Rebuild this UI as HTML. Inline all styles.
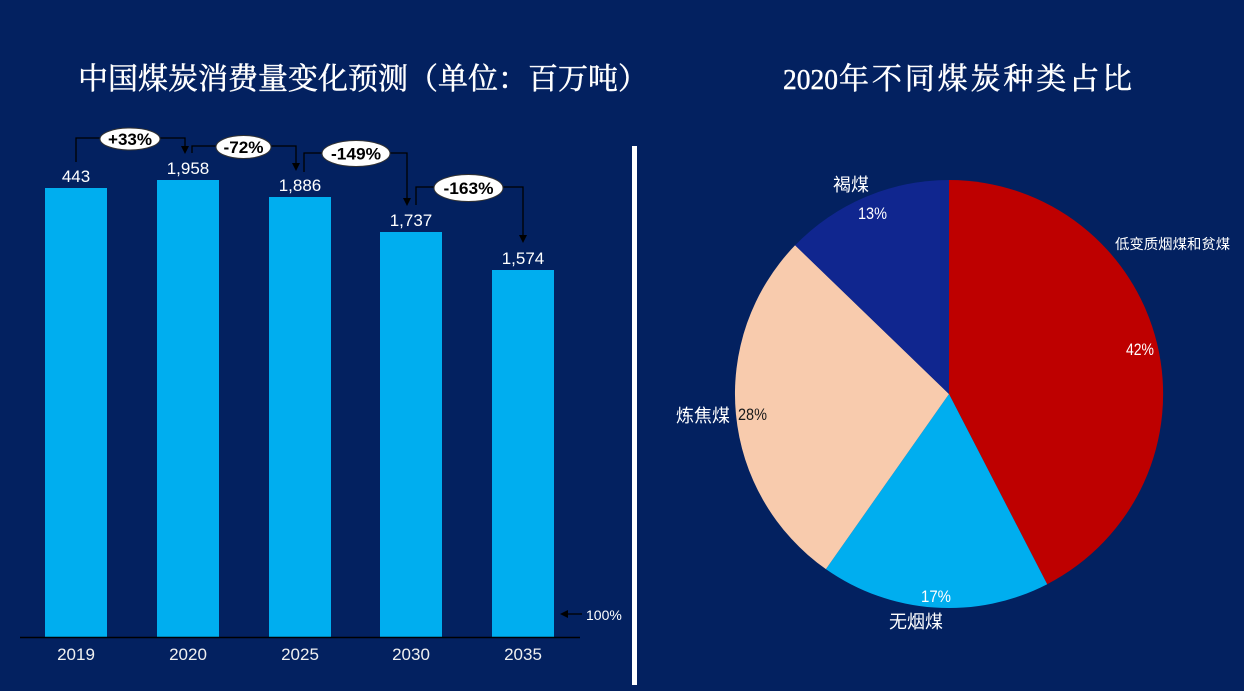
<!DOCTYPE html>
<html>
<head>
<meta charset="utf-8">
<style>
html,body{margin:0;padding:0;background:#032160;}
svg{display:block;}
</style>
</head>
<body>
<svg width="1244" height="691" viewBox="0 0 1244 691" xmlns="http://www.w3.org/2000/svg">
  <rect x="0" y="0" width="1244" height="691" fill="#032160"/>

  <!-- Titles -->
  <text x="78" y="89" font-family="'Liberation Serif','Noto Serif CJK SC',serif" font-size="30" fill="#ffffff" stroke="#ffffff" stroke-width="0.5">中国煤炭消费量变化预测（单位：百万吨）</text>
  <text x="783" y="89" font-family="'Liberation Serif','Noto Serif CJK SC',serif" font-size="28" fill="#ffffff" stroke="#ffffff" stroke-width="0.4" textLength="55" lengthAdjust="spacingAndGlyphs">2020</text>
  <text x="839" y="89" font-family="'Liberation Serif','Noto Serif CJK SC',serif" font-size="30" fill="#ffffff" stroke="#ffffff" stroke-width="0.5" textLength="293" lengthAdjust="spacing">年不同煤炭种类占比</text>

  <!-- Bars -->
  <g fill="#00AEEF">
    <rect x="45" y="188" width="62" height="449"/>
    <rect x="157" y="180" width="62" height="457"/>
    <rect x="269" y="197" width="62" height="440"/>
    <rect x="380" y="232" width="62" height="405"/>
    <rect x="492" y="270" width="62" height="367"/>
  </g>
  <!-- axis -->
  <line x1="20" y1="637.5" x2="580" y2="637.5" stroke="#000000" stroke-width="1.5"/>

  <!-- value labels -->
  <g font-family="'Liberation Sans',sans-serif" font-size="17" fill="#ffffff" text-anchor="middle">
    <text x="76" y="182">443</text>
    <text x="188" y="174">1,958</text>
    <text x="300" y="191">1,886</text>
    <text x="411" y="226">1,737</text>
    <text x="523" y="264">1,574</text>
  </g>

  <!-- year labels -->
  <g font-family="'Liberation Sans',sans-serif" font-size="17" fill="#f0f0f0" text-anchor="middle">
    <text x="76" y="660">2019</text>
    <text x="188" y="660">2020</text>
    <text x="300" y="660">2025</text>
    <text x="411" y="660">2030</text>
    <text x="523" y="660">2035</text>
  </g>

  <!-- connectors -->
  <g stroke="#000000" stroke-width="1.3" fill="none">
    <polyline points="76,162 76,138 100,138"/>
    <polyline points="160,138 185,138 185,147"/>
    <polyline points="192,153 192,146 216,146"/>
    <polyline points="271,146 296,146 296,164"/>
    <polyline points="304,172 304,153 322,153"/>
    <polyline points="390,153 407,153 407,199"/>
    <polyline points="416,205 416,187 434,187"/>
    <polyline points="503,187 523,187 523,236"/>
    <line x1="567" y1="614" x2="582" y2="614"/>
  </g>
  <g fill="#000000">
    <polygon points="181,146 189,146 185,154"/>
    <polygon points="292,163 300,163 296,171"/>
    <polygon points="403,198 411,198 407,206"/>
    <polygon points="519,235 527,235 523,243"/>
    <polygon points="560,614 568,610 568,618"/>
  </g>
  <!-- ellipses -->
  <g fill="#ffffff" stroke="#333333" stroke-width="1">
    <ellipse cx="130" cy="139" rx="30" ry="11"/>
    <ellipse cx="243.5" cy="147" rx="27.5" ry="11.5"/>
    <ellipse cx="356" cy="153.5" rx="34" ry="13"/>
    <ellipse cx="468.5" cy="188" rx="34.5" ry="13.5"/>
  </g>
  <g font-family="'Liberation Sans',sans-serif" font-size="17" font-weight="bold" fill="#000000" text-anchor="middle">
    <text x="130" y="145" textLength="44" lengthAdjust="spacingAndGlyphs">+33%</text>
    <text x="243.5" y="153" textLength="40" lengthAdjust="spacingAndGlyphs">-72%</text>
    <text x="356" y="159.5" textLength="50" lengthAdjust="spacingAndGlyphs">-149%</text>
    <text x="468.5" y="194" textLength="50" lengthAdjust="spacingAndGlyphs">-163%</text>
  </g>
  <text x="586" y="620" font-family="'Liberation Sans',sans-serif" font-size="14" fill="#ffffff">100%</text>

  <!-- separator -->
  <rect x="632" y="146" width="5" height="539" fill="#ffffff"/>

  <!-- Pie -->
  <path d="M949,394 L949,180 A214,214 0 0 1 1047.2,584.2 Z" fill="#BE0000"/>
  <path d="M949,394 L1047.2,584.2 A214,214 0 0 1 825.9,569.1 Z" fill="#00AEEF"/>
  <path d="M949,394 L825.9,569.1 A214,214 0 0 1 795.1,245.3 Z" fill="#F8CBAD"/>
  <path d="M949,394 L795.1,245.3 A214,214 0 0 1 949,180 Z" fill="#10268F"/>

  <!-- pie labels -->
  <g font-family="'Liberation Sans','Noto Sans CJK SC',sans-serif" fill="#ffffff">
    <text x="833" y="191" font-size="18">褐煤</text>
    <text x="1115" y="249" font-size="14.4">低变质烟煤和贫煤</text>
    <text x="676" y="422" font-size="18">炼焦煤</text>
    <text x="889" y="628" font-size="18">无烟煤</text>
  </g>
  <g font-family="'Liberation Sans',sans-serif" font-size="17">
    <text x="858" y="219" fill="#ffffff" textLength="29" lengthAdjust="spacingAndGlyphs">13%</text>
    <text x="1126" y="355" fill="#ffffff" textLength="28" lengthAdjust="spacingAndGlyphs">42%</text>
    <text x="738" y="420" fill="#1a1a1a" textLength="29" lengthAdjust="spacingAndGlyphs">28%</text>
    <text x="921" y="602" fill="#ffffff" textLength="30" lengthAdjust="spacingAndGlyphs">17%</text>
  </g>
</svg>
</body>
</html>
